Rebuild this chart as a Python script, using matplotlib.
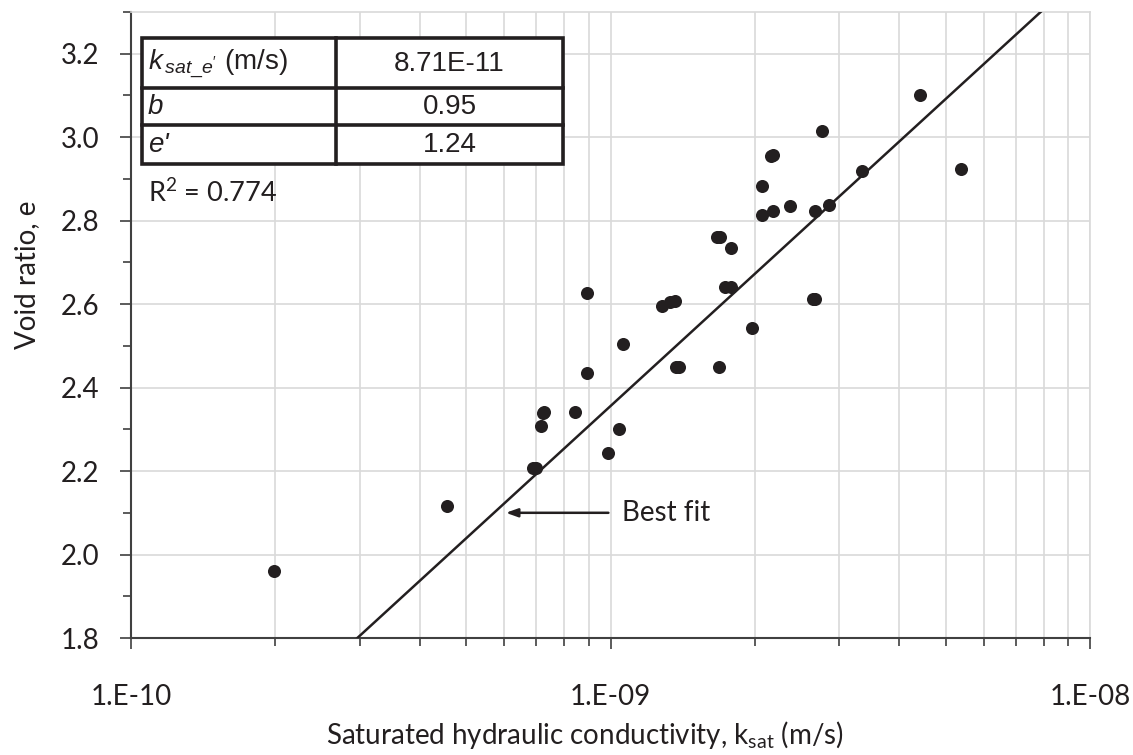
import matplotlib
matplotlib.use("Agg")
import matplotlib.pyplot as plt
from matplotlib.ticker import LogLocator, FixedLocator, MultipleLocator, NullFormatter
from matplotlib.patches import Rectangle
import numpy as np

# -- Data ---------------------------------------------------------------------

# measured saturated hydraulic conductivity (m/s) and void ratio
k_sat = [1.99e-10, 4.56e-10, 6.88e-10, 7.00e-10, 7.15e-10, 7.22e-10, 7.26e-10,
         8.42e-10, 8.92e-10, 8.92e-10, 9.86e-10, 1.04e-9, 1.06e-9, 1.28e-9,
         1.33e-9, 1.36e-9, 1.37e-9, 1.39e-9, 1.68e-9, 1.67e-9, 1.69e-9,
         1.78e-9, 1.73e-9, 1.78e-9, 1.97e-9, 2.07e-9, 2.07e-9, 2.18e-9,
         2.16e-9, 2.18e-9, 2.37e-9, 2.65e-9, 2.67e-9, 2.67e-9, 2.76e-9,
         2.85e-9, 3.34e-9, 4.43e-9, 5.39e-9]
void_ratio = [1.961, 2.117, 2.208, 2.208, 2.308, 2.340, 2.342,
              2.342, 2.435, 2.627, 2.244, 2.301, 2.505, 2.596,
              2.604, 2.608, 2.450, 2.450, 2.450, 2.762, 2.762,
              2.735, 2.642, 2.642, 2.543, 2.814, 2.884, 2.822,
              2.956, 2.958, 2.834, 2.613, 2.613, 2.822, 3.016,
              2.838, 2.918, 3.100, 2.925]

# fit parameters: k_sat = k_sat_e' * 10^(b (e - e'))
k_sat_e = 8.71e-11
b = 0.95
e_prime = 1.24
r_squared = 0.774

param_labels = ["$k_{\\,sat\\_e'}$ (m/s)", "b", "e'"]
param_values = ["8.71E-11", "0.95", "1.24"]

# -- Style --------------------------------------------------------------------

plt.rcParams["mathtext.fontset"] = "custom"
plt.rcParams["mathtext.it"] = "Liberation Sans:italic"
plt.rcParams["mathtext.rm"] = "Liberation Sans"
plt.rcParams["mathtext.sf"] = "Lato"

LABEL_FONT = "Lato"
DARK = "#231f20"
GRID = "#d9d9d9"
SPINE = "#404040"

fig = plt.figure(figsize=(11.33, 7.55), dpi=100)
W, H = 1133, 755
x0, x1, ytop, ybot = 131, 1090, 12, 638
ax = fig.add_axes([x0 / W, 1 - ybot / H, (x1 - x0) / W, (ybot - ytop) / H])

ax.set_xscale("log")
ax.set_xlim(1e-10, 1e-8)
ax.set_ylim(1.8, 3.3)

# grid
ax.xaxis.set_major_locator(LogLocator(base=10, numticks=5))
ax.xaxis.set_minor_locator(LogLocator(base=10, subs=np.arange(2, 10), numticks=20))
ax.xaxis.set_minor_formatter(NullFormatter())
ax.yaxis.set_major_locator(FixedLocator([1.8, 2.0, 2.2, 2.4, 2.6, 2.8, 3.0, 3.2]))
ax.yaxis.set_minor_locator(MultipleLocator(0.1))
ax.grid(True, which="major", color=GRID, lw=1.2, zorder=0)
ax.grid(True, which="minor", axis="x", color=GRID, lw=1.2, zorder=0)
ax.set_axisbelow(True)

for side in ["left", "bottom"]:
    ax.spines[side].set_color(SPINE)
    ax.spines[side].set_linewidth(1.5)
for side in ["top", "right"]:
    ax.spines[side].set_color(GRID)
    ax.spines[side].set_linewidth(1.2)

ax.tick_params(axis="both", which="both", direction="out", color=SPINE, width=1.2)
ax.tick_params(axis="both", which="major", length=8)
ax.tick_params(axis="both", which="minor", length=6)
ax.tick_params(axis="x", which="major", pad=25)
ax.tick_params(axis="y", which="major", pad=15)
ax.tick_params(top=False, right=False, which="both")

ax.set_xticks([1e-10, 1e-9, 1e-8])
ax.set_xticklabels(["1.E-10", "1.E-09", "1.E-08"], fontfamily=LABEL_FONT,
                   fontsize=20, color=DARK)
ax.set_yticklabels([f"{v:.1f}" for v in ax.get_yticks()], fontfamily=LABEL_FONT,
                   fontsize=20, color=DARK)

ax.set_xlabel("Saturated hydraulic conductivity, k$_{\\mathsf{sat}}$ (m/s)",
              fontfamily=LABEL_FONT, fontsize=20, color=DARK)
ax.set_ylabel("Void ratio, e", fontfamily=LABEL_FONT, fontsize=20, color=DARK)
ax.xaxis.label.set_va("center")
ax.yaxis.label.set_va("center")
ax.xaxis.set_label_coords((585 - x0) / (x1 - x0), (ybot - 735) / (ybot - ytop))
ax.yaxis.set_label_coords((27 - x0) / (x1 - x0), (ybot - 275) / (ybot - ytop))

# -- Measurements and fit ------------------------------------------------------

ax.plot(k_sat, void_ratio, "o", color=DARK, markersize=9.4, markeredgewidth=0,
        zorder=4)

e_fit = np.linspace(1.8, 3.3, 50)
k_fit = k_sat_e * 10 ** (b * (e_fit - e_prime))
ax.plot(k_fit, e_fit, color=DARK, lw=1.8, zorder=3)

ax.annotate("", xy=(6.05e-10, 2.10), xytext=(9.9e-10, 2.10),
            arrowprops=dict(arrowstyle="-|>,head_length=0.7,head_width=0.25",
                            color=DARK, lw=1.8, shrinkA=0, shrinkB=0))
ax.text(1.055e-9, 2.10, "Best fit", ha="left", va="center",
        fontfamily=LABEL_FONT, fontsize=20, color=DARK)

# -- Parameter table ------------------------------------------------------------

def px_to_axes(px, py):
    return (px - x0) / (x1 - x0), (ybot - py) / (ybot - ytop)

tx0, tx1, tmid = 142, 563, 336
row_edges = [38, 88, 125, 164]
lw_tab = 2.6
trans = ax.transAxes

ax_l, ax_t = px_to_axes(tx0, row_edges[0])
ax_r, ax_b = px_to_axes(tx1, row_edges[-1])
ax.add_patch(Rectangle((ax_l, ax_b), ax_r - ax_l, ax_t - ax_b, transform=trans,
                       facecolor="white", edgecolor=DARK, lw=lw_tab, zorder=5))
mx, _ = px_to_axes(tmid, 0)
ax.plot([mx, mx], [ax_b, ax_t], transform=trans, color=DARK, lw=lw_tab, zorder=6)
for ry in row_edges[1:-1]:
    _, yy = px_to_axes(0, ry)
    ax.plot([ax_l, ax_r], [yy, yy], transform=trans, color=DARK, lw=lw_tab,
            zorder=6)

for i, (lab, val) in enumerate(zip(param_labels, param_values)):
    cy = (row_edges[i] + row_edges[i + 1]) / 2 + 1
    lx, ly = px_to_axes(tx0 + 6, cy)
    ax.text(lx, ly, lab, transform=trans, ha="left", va="center",
            fontfamily="Liberation Sans", fontsize=20, color=DARK,
            fontstyle="italic" if i > 0 else "normal", zorder=7)
    vx, vy = px_to_axes((tmid + tx1) / 2, cy)
    ax.text(vx, vy, val, transform=trans, ha="center", va="center",
            fontfamily="Liberation Sans", fontsize=20, color=DARK, zorder=7)

rx, ry = px_to_axes(148, 193)
ax.text(rx, ry, f"R$^{{\\mathsf{{2}}}}$ = {r_squared}", transform=trans,
        ha="left", va="center", fontfamily=LABEL_FONT, fontsize=19.5,
        color=DARK, zorder=7)

fig.savefig("out.png", dpi=100, facecolor="white")
